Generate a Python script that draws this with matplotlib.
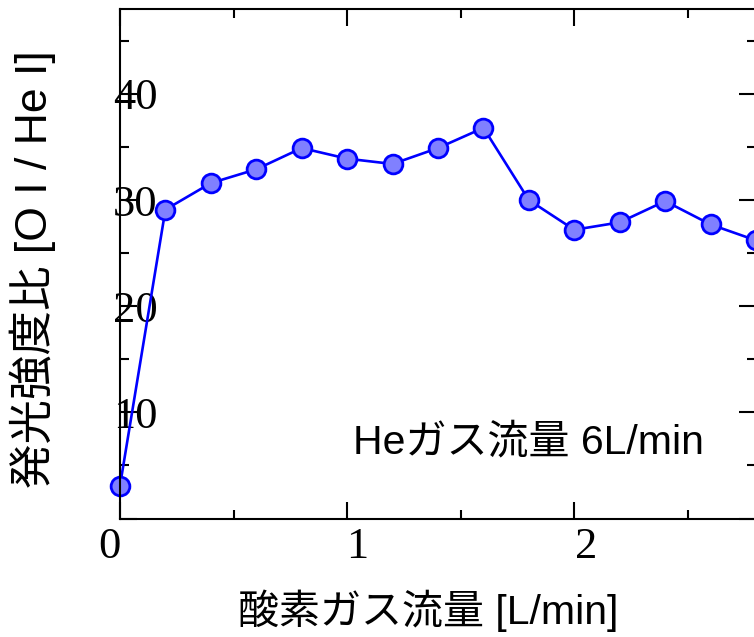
import matplotlib
matplotlib.use("Agg")
import matplotlib.pyplot as plt
import matplotlib.transforms as mtransforms
from matplotlib.ticker import MultipleLocator

# data
o2_flow = [0.0, 0.2, 0.4, 0.6, 0.8, 1.0, 1.2, 1.4, 1.6, 1.8, 2.0, 2.2, 2.4, 2.6, 2.8]
ratio = [3.1, 29.1, 31.6, 32.9, 34.9, 33.9, 33.4, 34.9, 36.8, 30.0, 27.2, 27.9, 29.9, 27.7, 26.2]

x_ticks = [0, 1, 2]
x_ticklabels = ["0", "1", "2"]
y_ticks = [0, 10, 20, 30, 40]
y_ticklabels = ["", "10", "20", "30", "40"]

jp_font = ["Liberation Sans", "Noto Sans CJK JP"]
num_font = "Liberation Serif"

fig = plt.figure(figsize=(7.54, 6.37), dpi=100)
ax = fig.add_axes([120 / 754, (637 - 518.5) / 637, 636 / 754, 509.5 / 637])

ax.plot(o2_flow, ratio, color="blue", lw=1.9, marker="o", ms=13.5,
        mfc="#8080ff", mec="blue", mew=2.0, clip_on=False)

ax.set_xlim(0, 2.8)
ax.set_ylim(0, 48)

ax.set_xticks(x_ticks)
ax.set_xticklabels(x_ticklabels, fontfamily=num_font, fontsize=32)
ax.set_yticks(y_ticks)
ax.set_yticklabels(y_ticklabels, fontfamily=num_font, fontsize=32)
ax.xaxis.set_minor_locator(MultipleLocator(0.5))
ax.yaxis.set_minor_locator(MultipleLocator(5))

ax.tick_params(which="both", direction="in", top=True, right=True, width=1.5)
ax.tick_params(which="major", length=12.5)
ax.tick_params(which="minor", length=6.5)
ax.tick_params(axis="y", pad=-27)
ax.tick_params(axis="x", pad=6)
for s in ax.spines.values():
    s.set_linewidth(1.5)

# small horizontal shifts of the x tick labels as in the reference
shifts = [-11, 10, 12]
for lab, dx in zip(ax.get_xticklabels(), shifts):
    lab.set_transform(lab.get_transform() +
                      mtransforms.ScaledTranslation(dx / 100, 0, fig.dpi_scale_trans))

ax.set_xlabel("酸素ガス流量 [L/min]", family=jp_font, fontsize=29.5)
ax.xaxis.set_label_coords(0.485, -0.14)
ax.set_ylabel("発光強度比 [O I / He I]", family=jp_font, fontsize=32)
ax.yaxis.set_label_coords(-0.1, 0.49)

ax.text(0.918, 0.127, "Heガス流量 6L/min", transform=ax.transAxes,
        family=jp_font, fontsize=29.5, ha="right", va="baseline")

fig.savefig("out.png", dpi=100)
